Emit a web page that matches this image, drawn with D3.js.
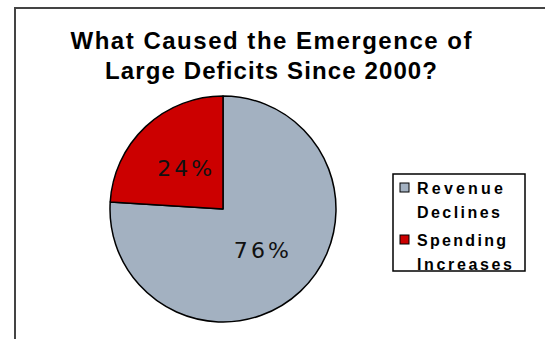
<!DOCTYPE html>
<html>
<head>
<meta charset="utf-8">
<script src="https://cdn.jsdelivr.net/npm/d3@7"></script>
<style>
  body { margin: 0; background: #fff; }
  svg { display: block; }
</style>
</head>
<body>
<div id="chart"></div>
<script>
var categories = ["Revenue Declines", "Spending Increases"];
var legendLines = [["Revenue", "Declines"], ["Spending", "Increases"]];
var values = [76, 24];
var colors = ["#a3b1c1", "#cc0000"];
var titleLines = ["What Caused the Emergence of", "Large Deficits Since 2000?"];

var w = 545, h = 339,
    cx = 223, cy = 209,
    r = 113;

var svg = d3.select("#chart").append("svg")
    .attr("width", w)
    .attr("height", h);

// outer frame, runs off the right and bottom
svg.append("rect")
    .attr("x", 15).attr("y", 8)
    .attr("width", 560).attr("height", 360)
    .attr("fill", "#fff")
    .attr("stroke", "#444")
    .attr("stroke-width", 2);

// title
var titleLen = [401, 332];
svg.selectAll("text.title")
    .data(titleLines)
  .enter().append("text")
    .attr("class", "title")
    .attr("x", 271)
    .attr("y", function(d, i) { return 48.5 + i * 30.5; })
    .attr("text-anchor", "middle")
    .attr("textLength", function(d, i) { return titleLen[i]; })
    .attr("lengthAdjust", "spacing")
    .style("font-family", "'Liberation Sans', Arial, sans-serif")
    .style("font-weight", "bold")
    .style("font-size", "24px")
    .text(function(d) { return d; });

var pie = d3.pie().sort(null).value(function(d) { return d; });
var arc = d3.arc().innerRadius(0).outerRadius(r);
var labelArc = d3.arc().innerRadius(56).outerRadius(56);

var g = svg.append("g")
    .attr("transform", "translate(" + cx + "," + cy + ")");

var slices = pie(values);

g.selectAll("path")
    .data(slices)
  .enter().append("path")
    .attr("d", arc)
    .attr("fill", function(d, i) { return colors[i]; })
    .attr("stroke", "#000")
    .attr("stroke-width", 1.5)
    .attr("stroke-linejoin", "round");

g.selectAll("text")
    .data(slices)
  .enter().append("text")
    .attr("transform", function(d) { return "translate(" + labelArc.centroid(d) + ")"; })
    .attr("dy", "0.36em")
    .attr("text-anchor", "middle")
    .attr("textLength", 55)
    .attr("lengthAdjust", "spacing")
    .style("font-family", "'DejaVu Sans', Verdana, sans-serif")
    .style("font-size", "22px")
    .style("fill", "#111")
    .text(function(d) { return d.data + "%"; });

// legend
var lg = svg.append("g");
lg.append("rect")
    .attr("x", 393).attr("y", 174)
    .attr("width", 132).attr("height", 97)
    .attr("fill", "#fff")
    .attr("stroke", "#000")
    .attr("stroke-width", 1.5);

var legendLen = [[86, 83], [89, 95]];
var item = lg.selectAll("g.item")
    .data(categories)
  .enter().append("g")
    .attr("class", "item")
    .attr("transform", function(d, i) { return "translate(400," + (183 + i * 52) + ")"; });

item.append("rect")
    .attr("width", 9).attr("height", 9)
    .attr("fill", function(d, i) { return colors[i]; })
    .attr("stroke", "#000")
    .attr("stroke-width", 1);

item.each(function(d, i) {
  d3.select(this).selectAll("text")
      .data(legendLines[i])
    .enter().append("text")
      .attr("x", 17)
      .attr("y", function(t, j) { return 11 + j * 24; })
      .attr("textLength", function(t, j) { return legendLen[i][j]; })
      .attr("lengthAdjust", "spacing")
      .style("font-family", "'Liberation Sans', Arial, sans-serif")
      .style("font-weight", "bold")
      .style("font-size", "16px")
      .text(function(t) { return t; });
});
</script>
</body>
</html>
